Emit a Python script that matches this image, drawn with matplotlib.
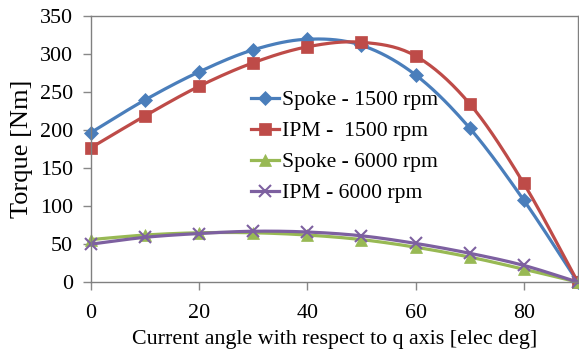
import numpy as np
import matplotlib
matplotlib.use("Agg")
import matplotlib.pyplot as plt

angle = [0, 10, 20, 30, 40, 50, 60, 70, 80, 90]
spoke_1500 = [197, 240, 277, 306, 320, 312, 273, 203, 108, 0]
ipm_1500 = [177, 219, 258, 289, 310, 316, 298, 235, 130, 0]
spoke_6000 = [56, 62, 65, 65, 62, 56, 46, 33, 17, 0]
ipm_6000 = [50, 59, 64, 67, 66, 61, 51, 38, 22, 0]
labels = ["Spoke - 1500 rpm", "IPM -  1500 rpm", "Spoke - 6000 rpm", "IPM - 6000 rpm"]


def smooth(x, y, n=20):
    # catmull-rom style curve, like excel's smoothed line
    x = np.asarray(x, float)
    y = np.asarray(y, float)
    px = np.concatenate([[2 * x[0] - x[1]], x, [2 * x[-1] - x[-2]]])
    py = np.concatenate([[2 * y[0] - y[1]], y, [2 * y[-1] - y[-2]]])
    xs, ys = [], []
    t = np.linspace(0, 1, n)
    for i in range(1, len(px) - 2):
        for p, out in ((px, xs), (py, ys)):
            p0, p1, p2, p3 = p[i - 1], p[i], p[i + 1], p[i + 2]
            c1 = p1 + (p2 - p0) / 6
            c2 = p2 - (p3 - p1) / 6
            out.extend((1 - t) ** 3 * p1 + 3 * (1 - t) ** 2 * t * c1
                       + 3 * (1 - t) * t ** 2 * c2 + t ** 3 * p2)
    return xs, ys


plt.rcParams['font.family'] = ['Liberation Serif', 'DejaVu Serif']
fig = plt.figure(figsize=(5.79, 3.5), dpi=100)
ax = fig.add_axes([0.157, 0.194, 0.841, 0.759])

series = [
    (spoke_1500, '#4A7EBB', 'D', 7),
    (ipm_1500, '#BE4B48', 's', 8),
    (spoke_6000, '#98B954', '^', 8),
    (ipm_6000, '#7D60A0', 'x', 8),
]
for (vals, col, mk, ms), lab in zip(series, labels):
    sx, sy = smooth(angle, vals)
    ax.plot(sx, sy, color=col, lw=2.3, solid_capstyle='round')
    ax.plot(angle, vals, ls='none', marker=mk, ms=ms, color=col,
            mew=1.5 if mk == 'x' else 0.5, clip_on=False)
    ax.plot([], [], color=col, lw=2.3, marker=mk, ms=ms,
            mew=1.5 if mk == 'x' else 0.5, label=lab)

ax.set_xlim(0, 90)
ax.set_ylim(0, 350)
ax.set_xticks([0, 20, 40, 60, 80])
ax.set_yticks(range(0, 351, 50))
ax.set_xlabel("Current angle with respect to q axis [elec deg]", fontsize=15.8, labelpad=5)
ax.set_ylabel("Torque [Nm]", fontsize=19, labelpad=5)
ax.tick_params(labelsize=15.8, color='#888888', length=6, width=1)
ax.tick_params(axis='x', pad=10)
ax.tick_params(axis='y', pad=7)
for s in ax.spines.values():
    s.set_color('#808080')
    s.set_linewidth(1.0)

ax.legend(loc='upper left', bbox_to_anchor=(0.31, 0.755), frameon=False,
          fontsize=15.6, handlelength=1.3, handletextpad=0.15, labelspacing=0.5,
          borderaxespad=0)

fig.savefig("out.png", dpi=100)
